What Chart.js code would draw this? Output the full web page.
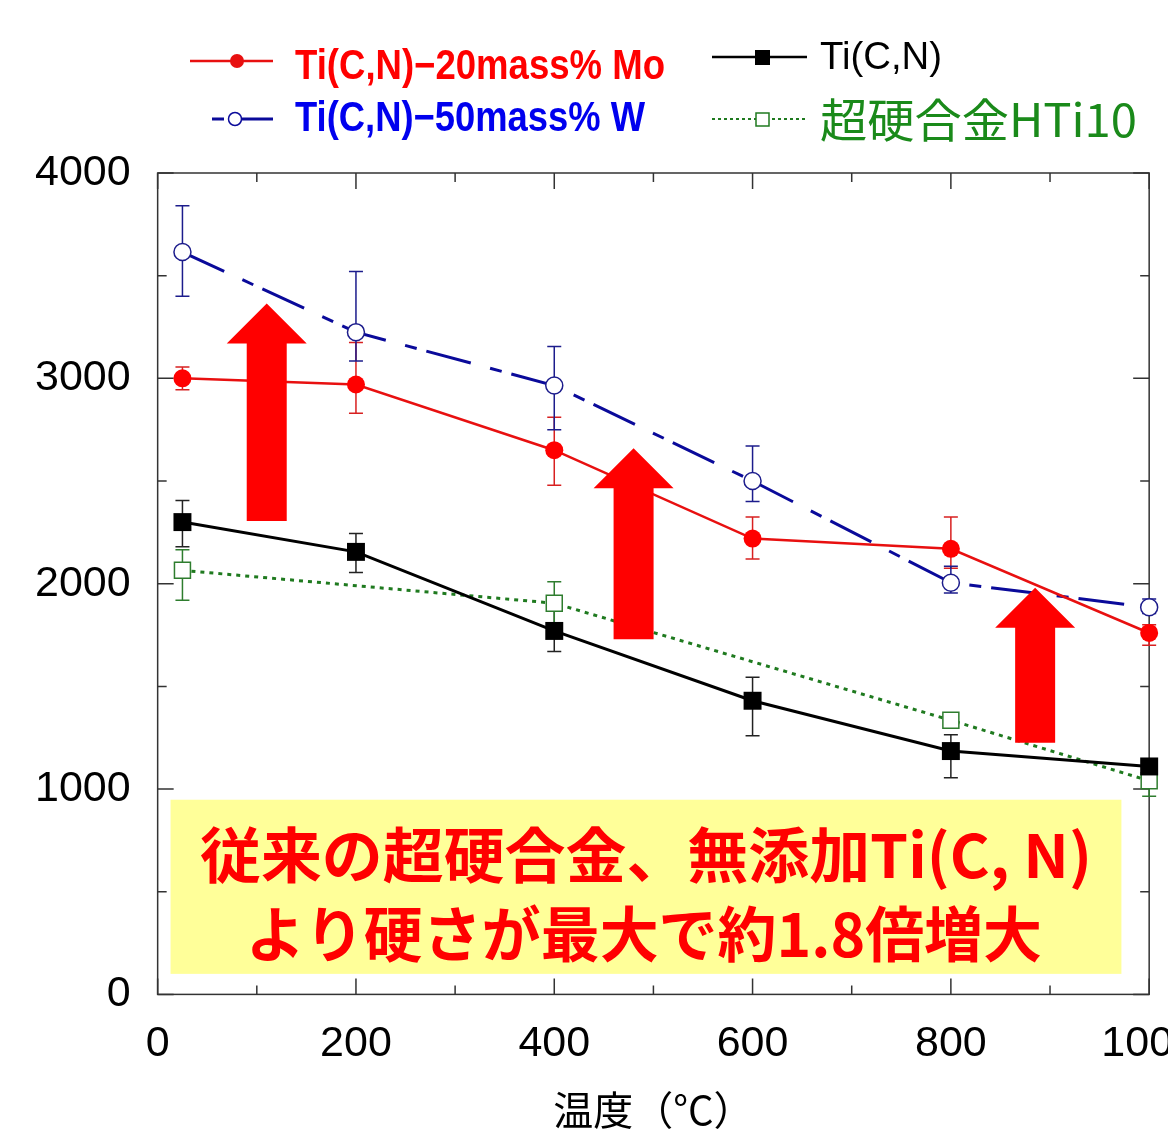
<!DOCTYPE html>
<html>
<head>
<meta charset="utf-8">
<script src="https://cdn.jsdelivr.net/npm/chart.js@4.4.1/dist/chart.umd.min.js"></script>
<style>
  html, body { margin: 0; padding: 0; background: #fff; overflow: hidden; }
  #wrap { width: 1221px; height: 1134px; }
</style>
</head>
<body>
<div id="wrap"><canvas id="myChart" width="1221" height="1134"></canvas></div>
<script>
// data (hardness vs temperature)
const temps = [25, 200, 400, 600, 800, 1000]
const moHardness = [3000, 2970, 2650, 2220, 2170, 1760]
const moErrUp = [55, 205, 160, 105, 155, 40]
const moErrDown = [55, 140, 170, 100, 95, 60]
const wHardness = [3615, 3225, 2965, 2500, 2005, 1885]
const wErrUp = [225, 295, 190, 170, 80, 40]
const wErrDown = [215, 140, 215, 100, 50, 30]
const ticnHardness = [2300, 2155, 1770, 1430, 1185, 1110]
const ticnErrUp = [105, 90, 100, 115, 80, 30]
const ticnErrDown = [120, 100, 100, 170, 130, 30]
const htiTemps = [25, 400, 800, 1000]
const htiHardness = [2065, 1905, 1335, 1040]
const htiErrUp = [100, 105, 30, 30]
const htiErrDown = [145, 105, 30, 75]

const seriesNames = ['Ti(C,N)−20mass% Mo', 'Ti(C,N)−50mass% W', 'Ti(C,N)', '超硬合金HTi10']
const xTitle = '温度（°C）'
const noteLines = ['従来の超硬合金、無添加Ti(C, N)', 'より硬さが最大で約1.8倍増大']

// annotation arrows (data coords): centre x, tip y, bottom y
const arrowX = [110, 480, 885]
const arrowTop = [3365, 2660, 1980]
const arrowBottom = [2305, 1730, 1225]
const noteX = [13, 972]
const noteY = [100, 948]

const toPoints = (xs, ys) => xs.map((x, i) => ({ x, y: ys[i] }))

function fillTextFit(ctx, text, x, y, width) {
  const w = ctx.measureText(text).width
  ctx.save()
  ctx.translate(x, y)
  ctx.scale(width / w, 1)
  ctx.textAlign = 'left'
  ctx.fillText(text, 0, 0)
  ctx.restore()
}

const frameTicks = {
  id: 'frameTicks',
  beforeDatasetsDraw(chart) {
    const { ctx, chartArea: a, scales: { x, y } } = chart
    ctx.save()
    ctx.strokeStyle = '#333'
    ctx.lineWidth = 1.5
    ctx.strokeRect(a.left, a.top, a.right - a.left, a.bottom - a.top)
    ctx.beginPath()
    x.ticks.forEach((t) => {
      const px = x.getPixelForValue(t.value)
      const len = t.value % 200 === 0 ? 16 : 9
      ctx.moveTo(px, a.bottom); ctx.lineTo(px, a.bottom - len)
      ctx.moveTo(px, a.top); ctx.lineTo(px, a.top + len)
    })
    y.ticks.forEach((t) => {
      const py = y.getPixelForValue(t.value)
      const len = t.value % 1000 === 0 ? 16 : 9
      ctx.moveTo(a.left, py); ctx.lineTo(a.left + len, py)
      ctx.moveTo(a.right, py); ctx.lineTo(a.right - len, py)
    })
    ctx.stroke()
    ctx.restore()
  },
}

const errorBars = {
  id: 'errorBars',
  beforeDatasetsDraw(chart) {
    const { ctx, scales: { x, y } } = chart
    chart.data.datasets.forEach((ds) => {
      ctx.save()
      ctx.strokeStyle = ds.errColor
      ctx.lineWidth = 1.5
      ctx.beginPath()
      ds.data.forEach((pt, i) => {
        const px = x.getPixelForValue(pt.x)
        const top = y.getPixelForValue(pt.y + ds.errUp[i])
        const bottom = y.getPixelForValue(pt.y - ds.errDown[i])
        ctx.moveTo(px, top); ctx.lineTo(px, bottom)
        ctx.moveTo(px - 7, top); ctx.lineTo(px + 7, top)
        ctx.moveTo(px - 7, bottom); ctx.lineTo(px + 7, bottom)
      })
      ctx.stroke()
      ctx.restore()
    })
  },
}

const notes = {
  id: 'notes',
  afterDatasetsDraw(chart) {
    const { ctx, scales: { x, y } } = chart
    ctx.save()
    // arrows
    ctx.fillStyle = '#ff0000'
    arrowX.forEach((v, i) => {
      const cx = x.getPixelForValue(v)
      const tip = y.getPixelForValue(arrowTop[i])
      const base = y.getPixelForValue(arrowBottom[i])
      ctx.beginPath()
      ctx.moveTo(cx, tip)
      ctx.lineTo(cx + 40, tip + 40)
      ctx.lineTo(cx + 20, tip + 40)
      ctx.lineTo(cx + 20, base)
      ctx.lineTo(cx - 20, base)
      ctx.lineTo(cx - 20, tip + 40)
      ctx.lineTo(cx - 40, tip + 40)
      ctx.closePath()
      ctx.fill()
    })
    // yellow note box
    const l = x.getPixelForValue(noteX[0])
    const r = x.getPixelForValue(noteX[1])
    const t = y.getPixelForValue(noteY[1])
    const b = y.getPixelForValue(noteY[0])
    ctx.fillStyle = '#ffff99'
    ctx.fillRect(l, t, r - l, b - t)
    ctx.fillStyle = '#ff0000'
    ctx.font = 'bold 60px "Noto Sans CJK JP"'
    ctx.textBaseline = 'alphabetic'
    const cx = (l + r) / 2
    fillTextFit(ctx, noteLines[0], cx - 446, t + 78, 892)
    fillTextFit(ctx, noteLines[1], cx - 400, t + 157, 796)
    ctx.restore()
  },
}

const legendBox = {
  id: 'legendBox',
  afterDraw(chart) {
    const { ctx } = chart
    const ds = chart.data.datasets
    ctx.save()
    ctx.textBaseline = 'alphabetic'
    // Mo
    ctx.strokeStyle = ds[0].borderColor
    ctx.lineWidth = 2.5
    ctx.beginPath(); ctx.moveTo(190, 61); ctx.lineTo(273, 61); ctx.stroke()
    ctx.fillStyle = ds[0].borderColor
    ctx.beginPath(); ctx.arc(237, 61, 7, 0, Math.PI * 2); ctx.fill()
    ctx.font = 'bold 42px "Liberation Sans"'
    ctx.fillStyle = '#ff0000'
    fillTextFit(ctx, seriesNames[0], 295, 79, 370)
    // W
    ctx.strokeStyle = ds[1].borderColor
    ctx.lineWidth = 3
    ctx.beginPath(); ctx.moveTo(212, 119); ctx.lineTo(224, 119)
    ctx.moveTo(242, 119); ctx.lineTo(273, 119); ctx.stroke()
    ctx.lineWidth = 1.5
    ctx.fillStyle = '#fff'
    ctx.beginPath(); ctx.arc(235, 119, 6.5, 0, Math.PI * 2); ctx.fill(); ctx.stroke()
    ctx.fillStyle = '#0000ee'
    fillTextFit(ctx, seriesNames[1], 295, 131, 350)
    // Ti(C,N)
    ctx.strokeStyle = '#000'
    ctx.lineWidth = 2.5
    ctx.beginPath(); ctx.moveTo(712, 57); ctx.lineTo(807, 57); ctx.stroke()
    ctx.fillStyle = '#000'
    ctx.fillRect(755, 50, 15, 15)
    ctx.font = '38px "Liberation Sans"'
    fillTextFit(ctx, seriesNames[2], 820, 69, 122)
    // HTi10
    ctx.strokeStyle = ds[3].borderColor
    ctx.lineWidth = 2
    ctx.setLineDash([3, 3])
    ctx.beginPath(); ctx.moveTo(712, 119); ctx.lineTo(807, 119); ctx.stroke()
    ctx.setLineDash([])
    ctx.fillStyle = '#fff'
    ctx.lineWidth = 1.5
    ctx.fillRect(756, 113, 13, 13); ctx.strokeRect(756, 113, 13, 13)
    ctx.fillStyle = '#1a8a1a'
    ctx.font = '46px "Noto Sans CJK JP"'
    fillTextFit(ctx, seriesNames[3], 820, 137, 317)
    ctx.restore()
  },
}

const ctx = document.getElementById('myChart').getContext('2d')
const myChart = new Chart(ctx, {
  type: 'line',
  data: {
    datasets: [
      {
        label: seriesNames[0],
        data: toPoints(temps, moHardness),
        borderColor: '#e81010',
        backgroundColor: '#ff0000',
        borderWidth: 2.5,
        pointStyle: 'circle',
        pointRadius: 9,
        pointBorderWidth: 0,
        errUp: moErrUp,
        errDown: moErrDown,
        errColor: '#d82020',
        clip: false,
      },
      {
        label: seriesNames[1],
        data: toPoints(temps, wHardness),
        borderColor: '#0a0a9a',
        backgroundColor: '#ffffff',
        borderWidth: 3,
        borderDash: [46, 20, 12, 10],
        pointStyle: 'circle',
        pointRadius: 8.5,
        pointBorderWidth: 1.5,
        pointBorderColor: '#1c1c8c',
        errUp: wErrUp,
        errDown: wErrDown,
        errColor: '#1c1c8c',
        clip: false,
      },
      {
        label: seriesNames[2],
        data: toPoints(temps, ticnHardness),
        borderColor: '#000000',
        backgroundColor: '#000000',
        borderWidth: 3,
        pointStyle: 'rect',
        pointRadius: 12.7,
        pointBorderWidth: 0,
        errUp: ticnErrUp,
        errDown: ticnErrDown,
        errColor: '#222222',
        clip: false,
      },
      {
        label: seriesNames[3],
        data: toPoints(htiTemps, htiHardness),
        borderColor: '#1f7a1f',
        backgroundColor: '#ffffff',
        borderWidth: 3,
        borderDash: [4, 5],
        pointStyle: 'rect',
        pointRadius: 11.3,
        pointBorderWidth: 1.5,
        pointBorderColor: '#2e7d2e',
        errUp: htiErrUp,
        errDown: htiErrDown,
        errColor: '#2e7d2e',
        clip: false,
      },
    ],
  },
  options: {
    responsive: false,
    animation: false,
    layout: { padding: { top: 173, left: 8, right: 0, bottom: 0 } },
    plugins: { legend: { display: false }, tooltip: { enabled: false } },
    scales: {
      x: {
        type: 'linear',
        min: 0,
        max: 1000,
        grid: { display: false, drawTicks: false },
        border: { display: false },
        ticks: {
          stepSize: 100,
          autoSkip: false,
          maxRotation: 0,
          minRotation: 0,
          padding: 24,
          color: '#000',
          font: { family: 'Liberation Sans', size: 43 },
          callback: (v) => (v % 200 === 0 ? String(v) : ''),
        },
        title: {
          display: true,
          text: xTitle,
          color: '#000',
          font: { family: 'Noto Sans CJK JP', size: 40 },
          padding: { top: -8, bottom: 0 },
        },
      },
      y: {
        min: 0,
        max: 4000,
        grid: { display: false, drawTicks: false },
        border: { display: false },
        ticks: {
          stepSize: 500,
          autoSkip: false,
          padding: 27,
          color: '#000',
          font: { family: 'Liberation Sans', size: 43 },
          callback: (v) => (v % 1000 === 0 ? String(v) : ''),
        },
      },
    },
  },
  plugins: [frameTicks, errorBars, notes, legendBox],
})
</script>
</body>
</html>
